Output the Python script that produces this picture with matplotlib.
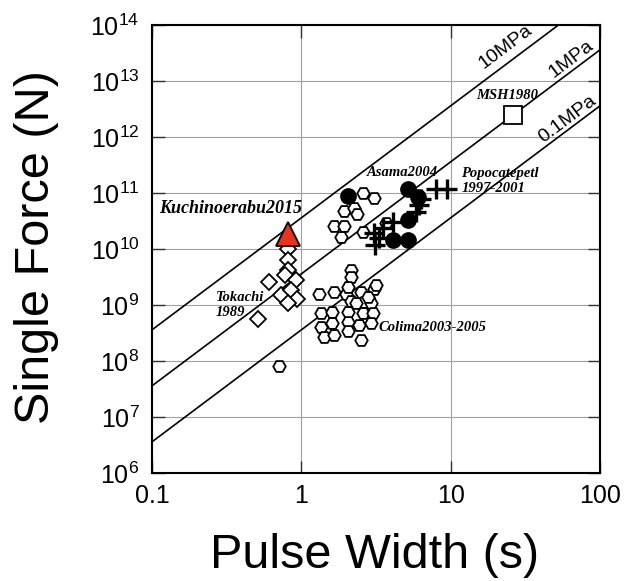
import numpy as np
import matplotlib
matplotlib.use("Agg")
import matplotlib.pyplot as plt
from matplotlib.ticker import FixedLocator, FixedFormatter, NullLocator

plt.rcParams['font.family'] = ['Liberation Sans', 'DejaVu Sans']
plt.rcParams['mathtext.fontset'] = 'custom'
plt.rcParams['mathtext.rm'] = 'Liberation Sans'
plt.rcParams['mathtext.it'] = 'Liberation Sans:italic'
plt.rcParams['mathtext.bf'] = 'Liberation Sans:bold'

# ---------------- data ----------------
# pressure lines: F = dP * (c * t)^2, c = 60 m/s
line_pressures_pa = [1e7, 1e6, 1e5]
line_labels = ["10MPa", "1MPa", "0.1MPa"]
line_label_t = [23.3, 63.7, 60.8]
line_label_f = [4.0e13, 2.5e13, 2.1e12]
sound_speed = 60.0

kuchi_t = [0.81]
kuchi_f = [1.85e10]

tokachi_t = [0.81, 0.81, 0.81, 0.78, 0.92, 0.605, 0.73, 0.85, 0.94, 0.81, 0.51]
tokachi_f = [9.9e9, 6.3e9, 4.3e9, 3.5e9, 2.8e9, 2.6e9, 1.5e9, 1.85e9, 1.3e9, 1.1e9, 5.7e8]

asama_t = [2.04, 5.2, 6.0, 5.2, 4.1, 5.2]
asama_f = [8.9e10, 1.2e11, 8.5e10, 3.3e10, 1.45e10, 1.45e10]

popo_t = [8.0, 9.5, 6.3, 6.15, 5.9, 4.1, 3.52, 3.06, 3.31, 3.1]
popo_f = [1.2e11, 1.2e11, 7.8e10, 6.2e10, 4.6e10, 3.0e10, 2.4e10, 1.95e10, 1.6e10, 1.2e10]

colima_t = [2.57, 3.08, 1.93, 2.24, 2.36, 1.66, 1.93, 1.84, 2.57, 3.69,
            2.15, 2.15, 1.31, 1.66, 1.99, 2.51, 3.08, 3.16, 2.15, 2.64,
            2.92, 1.35, 1.61, 2.04, 2.57, 3.0, 1.35, 1.61, 2.04, 2.44,
            2.92, 1.42, 1.66, 2.04, 2.51, 2.32, 2.04, 2.78, 0.71]
colima_f = [9.8e10, 8.3e10, 4.7e10, 5.4e10, 4.2e10, 2.6e10, 2.6e10, 1.66e10, 2.0e10, 2.9e10,
            4.2e9, 3.2e9, 1.6e9, 1.7e9, 1.6e9, 1.7e9, 1.9e9, 2.3e9, 1.2e9, 1.15e9,
            1.07e9, 7.1e8, 7.6e8, 7.6e8, 7.1e8, 7.1e8, 4.1e8, 4.7e8, 5.0e8, 4.4e8,
            4.7e8, 2.7e8, 2.9e8, 3.5e8, 2.4e8, 1.07e9, 2.1e9, 1.4e9, 8.1e7]

msh_t = [26.0]
msh_f = [2.45e12]

x_ticks = [0.1, 1, 10, 100]
x_ticklabels = ["0.1", "1", "10", "100"]
y_exponents = [6, 7, 8, 9, 10, 11, 12, 13, 14]

# ---------------- figure ----------------
fig = plt.figure(figsize=(6.26, 5.81), dpi=100)
ax = fig.add_axes([152/626, 1-473/581, 448/626, 448/581])
ax.set_xscale('log')
ax.set_yscale('log')
ax.set_xlim(0.1, 100)
ax.set_ylim(1e6, 1e14)

ax.xaxis.set_major_locator(FixedLocator(x_ticks))
ax.xaxis.set_major_formatter(FixedFormatter(x_ticklabels))
ax.xaxis.set_minor_locator(NullLocator())
yt = [10.0**e for e in y_exponents]
ax.yaxis.set_major_locator(FixedLocator(yt))
ax.yaxis.set_major_formatter(FixedFormatter([r"$10^{%d}$" % e for e in y_exponents]))
ax.yaxis.set_minor_locator(NullLocator())

ax.grid(True, which='major', color='#a0a0a0', linewidth=0.8)
ax.set_axisbelow(True)
ax.tick_params(which='major', direction='in', length=9, width=1.0,
               top=True, right=True, labelsize=18, color='#333333')
ax.tick_params(axis='x', pad=8)
ax.tick_params(axis='y', pad=9)
for s in ax.spines.values():
    s.set_linewidth(1.5)

# pressure lines
tt = np.logspace(-1, 2, 200)
for p in line_pressures_pa:
    ax.plot(tt, p * (sound_speed * tt) ** 2, color='black', lw=1.2, zorder=2)

# angle of the lines on screen
p0 = ax.transData.transform((1.0, 1e9))
p1 = ax.transData.transform((10.0, 1e11))
angle = np.degrees(np.arctan2(p1[1] - p0[1], p1[0] - p0[0]))
for lab, lt, lf in zip(line_labels, line_label_t, line_label_f):
    ax.text(lt, lf, lab, rotation=angle, rotation_mode='anchor', ha='center',
            va='center', fontsize=14, zorder=5)

# markers
ax.plot(colima_t, colima_f, linestyle='none', marker='H', ms=9, mfc='white',
        mec='black', mew=1.3, zorder=3)
ax.plot(tokachi_t, tokachi_f, linestyle='none', marker='D', ms=7.8, mfc='white',
        mec='black', mew=1.3, zorder=3)
ax.plot(asama_t, asama_f, linestyle='none', marker='o', ms=11, mfc='black',
        mec='black', zorder=4)
ax.plot(popo_t, popo_f, linestyle='none', marker='+', ms=14, mec='black',
        mew=2.4, zorder=4)
ax.plot(msh_t, msh_f, linestyle='none', marker='s', ms=12.5, mfc='white',
        mec='black', mew=1.3, zorder=4)
ax.plot(kuchi_t, kuchi_f, linestyle='none', marker='^', ms=17, mfc='#e8341f',
        mec='black', mew=1.3, zorder=5)

# annotations
lab_font = dict(family='Liberation Serif', style='italic', weight='bold')
ax.text(0.335, 5.2e10, "Kuchinoerabu2015", fontsize=13, ha='center', va='center', **lab_font)
ax.text(0.266, 1.0e9, "Tokachi\n1989", fontsize=10.5, ha='left', va='center',
        linespacing=1.25, **lab_font)
ax.text(4.72, 2.28e11, "Asama2004", fontsize=10.5, ha='center', va='center', **lab_font)
ax.text(11.8, 1.64e11, "Popocatepetl\n1997-2001", fontsize=10.5, ha='left', va='center',
        linespacing=1.2, **lab_font)
ax.text(7.52, 3.9e8, "Colima2003-2005", fontsize=10.5, ha='center', va='center', **lab_font)
ax.text(24.0, 5.4e12, "MSH1980", fontsize=10.5, ha='center', va='center', **lab_font)

fig.text(375/626, 1-555/581, "Pulse Width (s)", fontsize=35, ha='center', va='center')
fig.text(37/626, 1-247/581, "Single Force (N)", fontsize=35, ha='center', va='center',
         rotation=90)

fig.savefig("out.png", dpi=100)
